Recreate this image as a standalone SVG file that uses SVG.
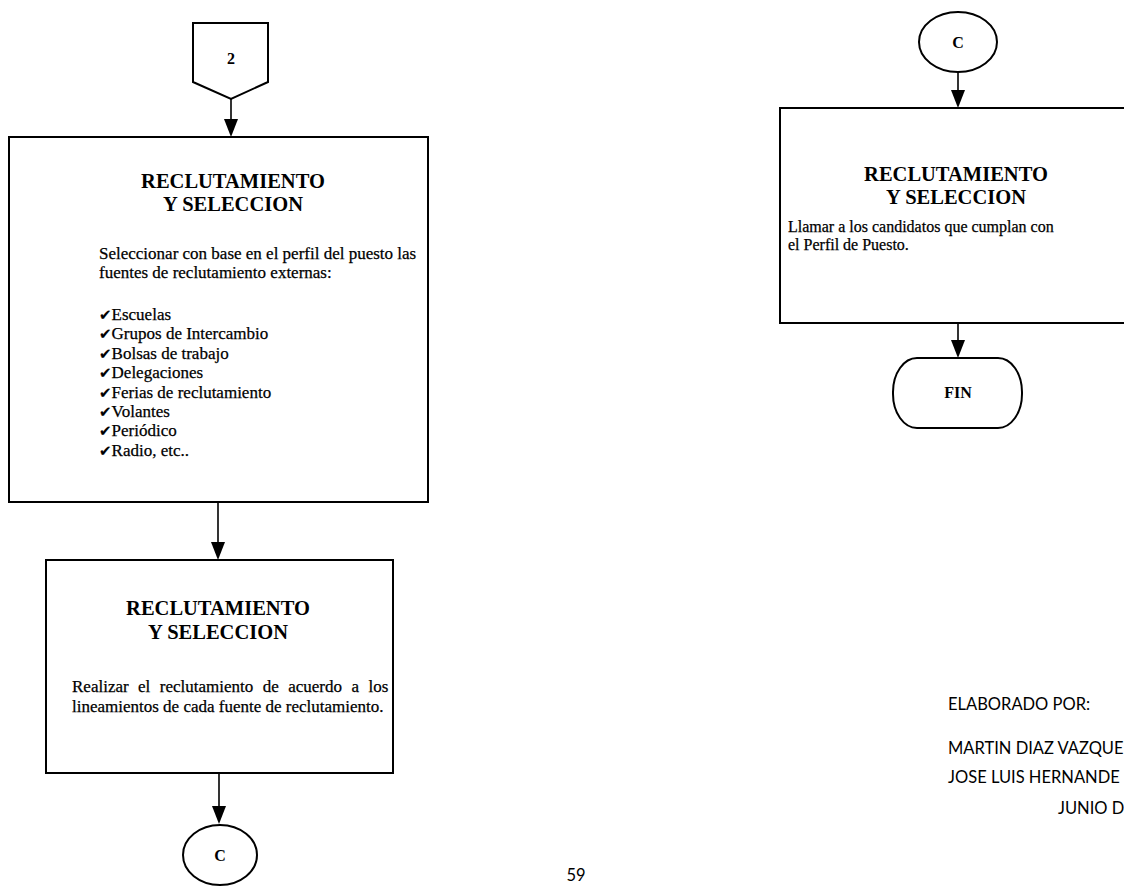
<svg xmlns="http://www.w3.org/2000/svg" width="1124" height="886" viewBox="0 0 1124 886">
  <style>
    .shape { fill: #ffffff; stroke: #000000; stroke-width: 2; }
    .conn { fill: none; stroke: #000000; stroke-width: 1.6; }
    .head { fill: #000000; }
    .title { font-family: "Liberation Serif", "Times New Roman", serif; font-weight: bold; font-size: 20.5px; fill: #000; text-anchor: middle; }
    .body { font-family: "Liberation Serif", "Times New Roman", serif; font-size: 17px; fill: #000; stroke: #000; stroke-width: 0.25; }
    .small { font-size: 16px; }
    .chk { font-family: "DejaVu Sans", sans-serif; font-size: 15px; font-weight: bold; }
    .lbl { font-family: "Liberation Serif", "Times New Roman", serif; font-weight: bold; font-size: 16px; fill: #000; text-anchor: middle; }
    .sig { font-family: "Lato", "Open Sans", sans-serif; font-size: 16.5px; fill: #000; }
  </style>

  <!-- connectors -->
  <g id="connectors">
    <line class="conn" x1="231" y1="99" x2="231" y2="120"/>
    <path class="head" d="M224,119 L238,119 L231,137 Z"/>
    <line class="conn" x1="218" y1="502" x2="218" y2="543"/>
    <path class="head" d="M211,542 L225,542 L218,560 Z"/>
    <line class="conn" x1="219" y1="773" x2="219" y2="807"/>
    <path class="head" d="M212,806 L226,806 L219,824 Z"/>
    <line class="conn" x1="958" y1="72" x2="958" y2="91"/>
    <path class="head" d="M951,90 L965,90 L958,108 Z"/>
    <line class="conn" x1="958" y1="323" x2="958" y2="341"/>
    <path class="head" d="M951,340 L965,340 L958,358 Z"/>
  </g>

  <!-- off-page connector "2" -->
  <g id="offpage-2">
    <polygon class="shape" points="193,23 268,23 268,82 231,99 193,82"/>
    <text class="lbl" x="231" y="64">2</text>
  </g>

  <!-- step: choose external recruitment sources -->
  <g id="step-fuentes">
    <rect class="shape" x="9" y="137" width="419" height="365"/>
    <text class="title" x="233" y="188">RECLUTAMIENTO</text>
    <text class="title" x="233" y="211">Y SELECCION</text>
    <text class="body" x="99" y="259">Seleccionar con base en el perfil del puesto las</text>
    <text class="body" x="99" y="278">fuentes de reclutamiento externas:</text>
    <text class="body" x="99" y="320"><tspan class="chk">✔</tspan>Escuelas</text>
    <text class="body" x="99" y="339.4"><tspan class="chk">✔</tspan>Grupos de Intercambio</text>
    <text class="body" x="99" y="358.8"><tspan class="chk">✔</tspan>Bolsas de trabajo</text>
    <text class="body" x="99" y="378.2"><tspan class="chk">✔</tspan>Delegaciones</text>
    <text class="body" x="99" y="397.6"><tspan class="chk">✔</tspan>Ferias de reclutamiento</text>
    <text class="body" x="99" y="417"><tspan class="chk">✔</tspan>Volantes</text>
    <text class="body" x="99" y="436.4"><tspan class="chk">✔</tspan>Periódico</text>
    <text class="body" x="99" y="455.8"><tspan class="chk">✔</tspan>Radio,  etc..</text>
  </g>

  <!-- step: carry out recruitment -->
  <g id="step-realizar">
    <rect class="shape" x="46" y="560" width="347" height="213"/>
    <text class="title" x="218" y="615">RECLUTAMIENTO</text>
    <text class="title" x="218" y="639">Y SELECCION</text>
    <text class="body" x="72" y="692" word-spacing="5.2">Realizar el reclutamiento de acuerdo a los</text>
    <text class="body" x="72" y="712">lineamientos de cada fuente de reclutamiento.</text>
  </g>

  <!-- connector C (outgoing) -->
  <g id="connector-c-out">
    <ellipse class="shape" cx="220" cy="855" rx="37" ry="30"/>
    <text class="lbl" x="220" y="861">C</text>
  </g>

  <!-- connector C (incoming) -->
  <g id="connector-c-in">
    <ellipse class="shape" cx="958" cy="42" rx="39" ry="30"/>
    <text class="lbl" x="958" y="48">C</text>
  </g>

  <!-- step: call candidates -->
  <g id="step-llamar">
    <rect class="shape" x="780" y="108" width="360" height="215"/>
    <text class="title" x="956" y="181">RECLUTAMIENTO</text>
    <text class="title" x="956" y="204">Y SELECCION</text>
    <text class="body small" x="788" y="232">Llamar a los candidatos que cumplan con</text>
    <text class="body small" x="788" y="250">el Perfil de Puesto.</text>
  </g>

  <!-- terminator -->
  <g id="end">
    <rect class="shape" x="893" y="358" width="129" height="70" rx="24" ry="34"/>
    <text class="lbl" font-size="13" x="958" y="398">FIN</text>
  </g>

  <!-- credits and page number -->
  <g id="credits">
    <text class="sig" x="948" y="710">ELABORADO POR:</text>
    <text class="sig" x="948" y="754">MARTIN DIAZ VAZQUE</text>
    <text class="sig" x="948" y="783">JOSE LUIS HERNANDE</text>
    <text class="sig" x="1058" y="814" font-size="16">JUNIO D</text>
    <text class="sig" x="576" y="881" text-anchor="middle" font-size="15">59</text>
  </g>
</svg>
